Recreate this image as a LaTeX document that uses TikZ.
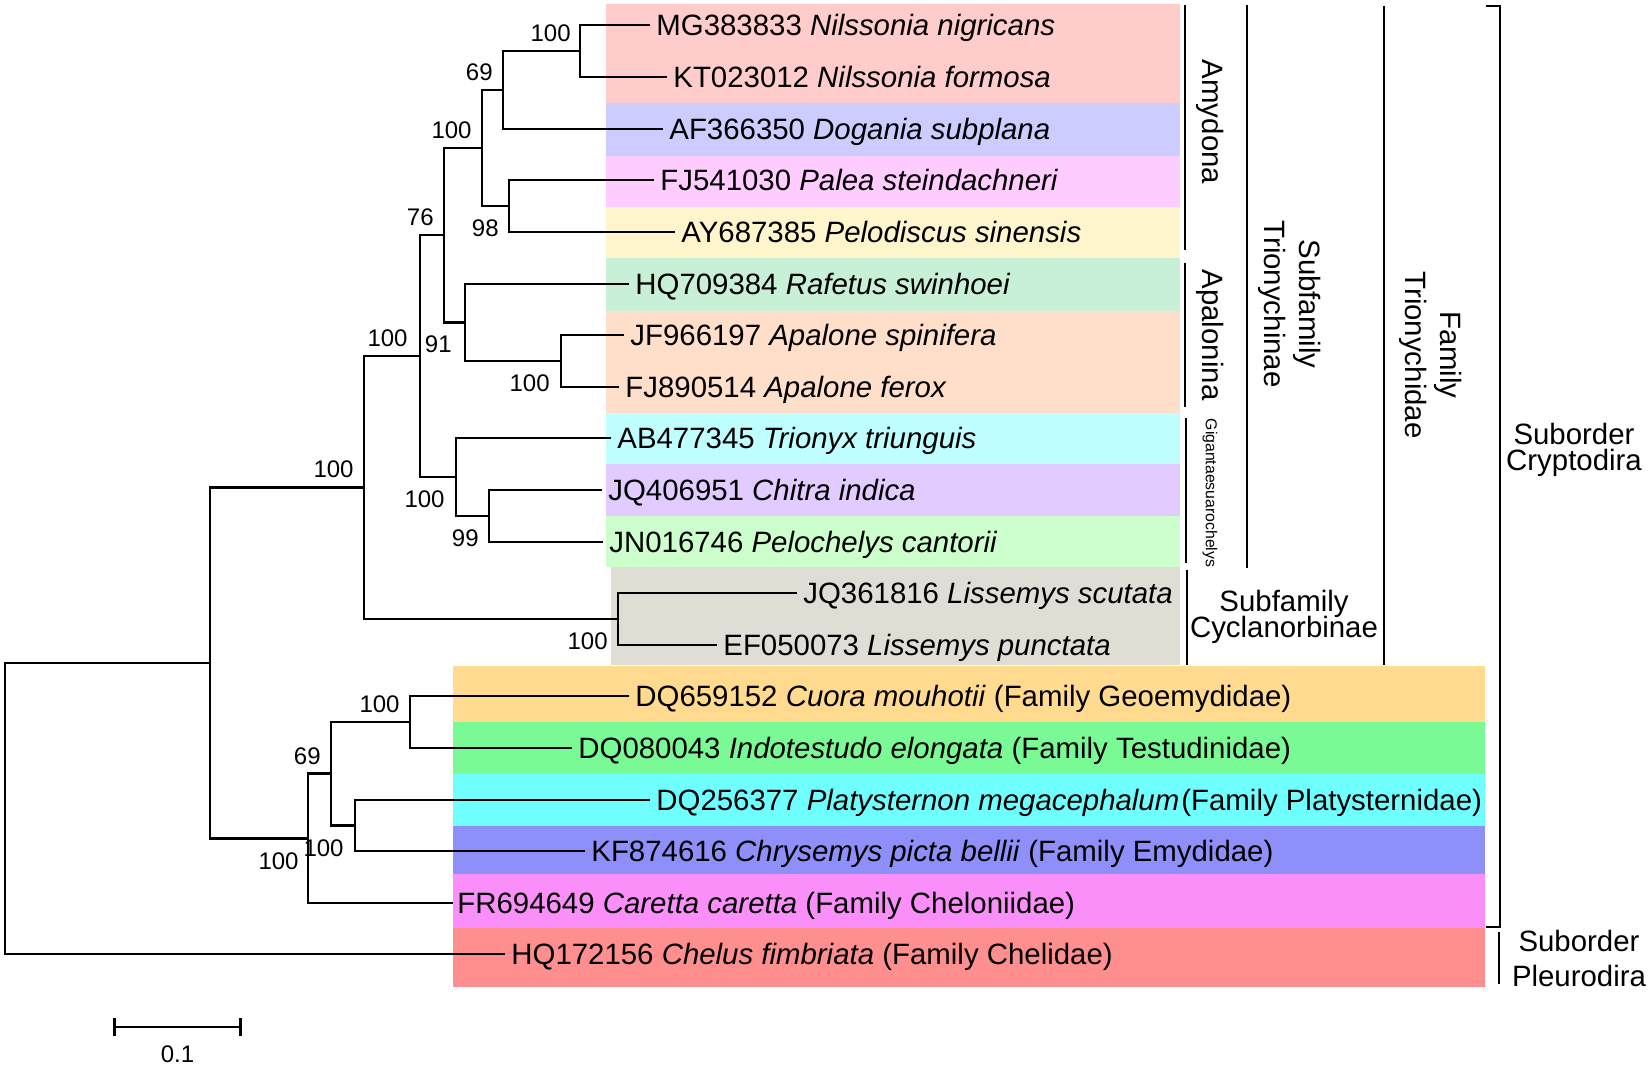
\documentclass[tikz,border=0pt]{standalone}
\usepackage{fontspec}
\setmainfont{Liberation Sans}
\usetikzlibrary{arrows.meta, positioning}

\definecolor{nilband}{RGB}{255,204,204}
\definecolor{dogband}{RGB}{204,204,255}
\definecolor{palband}{RGB}{255,204,255}
\definecolor{pdsband}{RGB}{255,245,204}
\definecolor{rafband}{RGB}{200,240,214}
\definecolor{apaband}{RGB}{255,222,202}
\definecolor{trxband}{RGB}{192,255,255}
\definecolor{chiband}{RGB}{226,204,255}
\definecolor{pchband}{RGB}{204,255,204}
\definecolor{lisband}{RGB}{224,221,212}
\definecolor{cuoband}{RGB}{255,218,143}
\definecolor{indband}{RGB}{122,250,148}
\definecolor{plaband}{RGB}{112,255,255}
\definecolor{chrband}{RGB}{143,143,250}
\definecolor{carband}{RGB}{250,143,250}
\definecolor{cheband}{RGB}{255,143,143}

\newcommand{\grpfont}{\fontsize{14.7}{17.5}\selectfont\lineskiplimit-20pt\relax}
\newcommand{\tightfont}{\fontsize{14.7}{13.3}\selectfont\lineskiplimit-20pt\relax}

\tikzset{
  branch/.style={line width=1.3pt},
  clade/.style={line width=1.3pt},
  tip/.style={anchor=west, inner sep=0pt, text height=10.5pt, text depth=0pt,
    font=\fontsize{14.7}{17.5}\selectfont},
  boot/.style={anchor=east, inner sep=0pt, font=\fontsize{12}{14}\selectfont},
  grp/.style={inner sep=0pt, align=center, font=\grpfont},
  tight/.style={font=\tightfont}
}

\begin{document}
\begin{tikzpicture}[x=0.5pt,y=-0.5pt]
    \useasboundingbox (0,0) rectangle (1650,1065);

    % coloured bands
    \fill[nilband] (606,4) rectangle (1180,103);
    \fill[dogband] (606,103) rectangle (1180,156);
    \fill[palband] (606,156) rectangle (1180,207);
    \fill[pdsband] (606,207) rectangle (1180,258);
    \fill[rafband] (606,258) rectangle (1180,311);
    \fill[apaband] (606,311) rectangle (1180,413);
    \fill[trxband] (606,413) rectangle (1180,464);
    \fill[chiband] (606,464) rectangle (1180,516);
    \fill[pchband] (606,516) rectangle (1180,567);
    \fill[lisband] (611,567) rectangle (1180,665);
    \fill[cuoband] (453,666) rectangle (1485,722);
    \fill[indband] (453,722) rectangle (1485,774);
    \fill[plaband] (453,774) rectangle (1485,826);
    \fill[chrband] (453,826) rectangle (1485,874);
    \fill[carband] (453,874) rectangle (1485,928);
    \fill[cheband] (453,928) rectangle (1485,987);

    % tips
    \coordinate (t1) at (650,25);
    \coordinate (t2) at (667,77);
    \coordinate (t3) at (663,129);
    \coordinate (t4) at (654,180);
    \coordinate (t5) at (675,232);
    \coordinate (t6) at (629,284);
    \coordinate (t7) at (624,335);
    \coordinate (t8) at (619,387);
    \coordinate (t9) at (611,438);
    \coordinate (t10) at (602,490);
    \coordinate (t11) at (603,542);
    \coordinate (t12) at (797,593);
    \coordinate (t13) at (717,645);
    \coordinate (t14) at (629,696);
    \coordinate (t15) at (572,748);
    \coordinate (t16) at (650,800);
    \coordinate (t17) at (585,851);
    \coordinate (t18) at (453,903);
    \coordinate (t19) at (505,954);

    % internal nodes
    \coordinate (nNil) at (580,51);
    \coordinate (n69a) at (503,90);
    \coordinate (n98) at (509,206);
    \coordinate (nAmy) at (482,148);
    \coordinate (nApa) at (561,361);
    \coordinate (n91) at (465,322.5);
    \coordinate (n76) at (444,235);
    \coordinate (n99) at (489,516);
    \coordinate (nGig) at (456,477);
    \coordinate (nTri) at (420,356);
    \coordinate (nLis) at (618,619);
    \coordinate (nTrd) at (364,487.5);
    \coordinate (nGeo) at (410,722);
    \coordinate (nPla) at (355,825.5);
    \coordinate (n69b) at (331,773.5);
    \coordinate (nChe) at (308,838.5);
    \coordinate (nCry) at (210,663);
    \coordinate (root) at (5,808.5);

    % branches
    \draw[branch] (nNil) |- (t1);
    \draw[branch] (nNil) |- (t2);
    \draw[branch] (n69a) |- (nNil);
    \draw[branch] (n69a) |- (t3);
    \draw[branch] (n98) |- (t4);
    \draw[branch] (n98) |- (t5);
    \draw[branch] (nAmy) |- (n69a);
    \draw[branch] (nAmy) |- (n98);
    \draw[branch] (nApa) |- (t7);
    \draw[branch] (nApa) |- (t8);
    \draw[branch] (n91) |- (t6);
    \draw[branch] (n91) |- (nApa);
    \draw[branch] (n76) |- (nAmy);
    \draw[branch] (n76) |- (n91);
    \draw[branch] (n99) |- (t10);
    \draw[branch] (n99) |- (t11);
    \draw[branch] (nGig) |- (t9);
    \draw[branch] (nGig) |- (n99);
    \draw[branch] (nTri) |- (n76);
    \draw[branch] (nTri) |- (nGig);
    \draw[branch] (nLis) |- (t12);
    \draw[branch] (nLis) |- (t13);
    \draw[branch] (nTrd) |- (nTri);
    \draw[branch] (nTrd) |- (nLis);
    \draw[branch] (nGeo) |- (t14);
    \draw[branch] (nGeo) |- (t15);
    \draw[branch] (nPla) |- (t16);
    \draw[branch] (nPla) |- (t17);
    \draw[branch] (n69b) |- (nGeo);
    \draw[branch] (n69b) |- (nPla);
    \draw[branch] (nChe) |- (n69b);
    \draw[branch] (nChe) |- (t18);
    \draw[branch] (nCry) |- (nTrd);
    \draw[branch] (nCry) |- (nChe);
    \draw[branch] (root) |- (nCry);
    \draw[branch] (root) |- (t19);

    % bootstrap values
    \node[boot] (bNil) at (571,33) {100};
    \node[boot] (b69a) at (493,72) {69};
    \node[boot] (bAmy) at (472,130) {100};
    \node[boot] (b98) at (499,228) {98};
    \node[boot] (b76) at (434,217) {76};
    \node[boot] (b91) at (452,344) {91};
    \node[boot] (bApa) at (550,383) {100};
    \node[boot] (bTri) at (408,338) {100};
    \node[boot] (bTrd) at (354,469) {100};
    \node[boot] (bGig) at (445,499) {100};
    \node[boot] (b99) at (479,538) {99};
    \node[boot] (bLis) at (608,641) {100};
    \node[boot] (bGeo) at (400,704) {100};
    \node[boot] (b69b) at (321,756) {69};
    \node[boot] (bPla) at (344,848) {100};
    \node[boot] (bChe) at (299,861) {100};

    % taxon labels
    \node[tip, right=3pt of t1] (l1) {MG383833 \textit{Nilssonia nigricans}};
    \node[tip, right=3pt of t2] (l2) {KT023012 \textit{Nilssonia formosa}};
    \node[tip, right=3pt of t3] (l3) {AF366350 \textit{Dogania subplana}};
    \node[tip, right=3pt of t4] (l4) {FJ541030 \textit{Palea steindachneri}};
    \node[tip, right=3pt of t5] (l5) {AY687385 \textit{Pelodiscus sinensis}};
    \node[tip, right=3pt of t6] (l6) {HQ709384 \textit{Rafetus swinhoei}};
    \node[tip, right=3pt of t7] (l7) {JF966197 \textit{Apalone spinifera}};
    \node[tip, right=3pt of t8] (l8) {FJ890514 \textit{Apalone ferox}};
    \node[tip, right=3pt of t9] (l9) {AB477345 \textit{Trionyx triunguis}};
    \node[tip, right=3pt of t10] (l10) {JQ406951 \textit{Chitra indica}};
    \node[tip, right=3pt of t11] (l11) {JN016746 \textit{Pelochelys cantorii}};
    \node[tip, right=3pt of t12] (l12) {JQ361816 \textit{Lissemys scutata}};
    \node[tip, right=3pt of t13] (l13) {EF050073 \textit{Lissemys punctata}};
    \node[tip, right=3pt of t14] (l14) {DQ659152 \textit{Cuora mouhotii} (Family Geoemydidae)};
    \node[tip, right=3pt of t15] (l15) {DQ080043 \textit{Indotestudo elongata} (Family Testudinidae)};
    \node[tip, right=3pt of t16] (l16) {DQ256377 \textit{Platysternon megacephalum}\kern1pt(Family Platysternidae)};
    \node[tip, right=3pt of t17] (l17) {KF874616 \textit{Chrysemys picta bellii} (Family Emydidae)};
    \node[tip, right=2pt of t18] (l18) {FR694649 \textit{Caretta caretta} (Family Cheloniidae)};
    \node[tip, right=3pt of t19] (l19) {HQ172156 \textit{Chelus fimbriata} (Family Chelidae)};

    % clade bars and names
    \draw[clade] (1185,5) -- (1185,250);
    \draw[clade] (1185,263) -- (1185,407);
    \draw[clade] (1186,418) -- (1186,563);
    \draw[clade] (1247,5) -- (1247,568);
    \draw[clade] (1187,570) -- (1187,665);
    \draw[clade] (1384,6) -- (1384,665);
    \draw[clade] (1486,6) -- (1500,6) -- (1500,927) -- (1486,927);
    \draw[clade] (1499,932) -- (1499,984);

    \node[grp, rotate=-90] (amy) at (1210,122) {Amydona};
    \node[grp, rotate=-90] (apl) at (1210,335) {Apalonina};
    \node[grp, rotate=-90, font=\fontsize{7.9}{9}\selectfont] (gig) at (1210,493) {Gigantaesuarochelys};
    \node[grp, rotate=-90] (trs) at (1290,304) {Subfamily\\Trionychinae};
    \node[grp, rotate=-90] (trf) at (1431,355) {Family\\Trionychidae};
    \node[grp, tight] (cyc) at (1284,617) {Subfamily\\Cyclanorbinae};
    \node[grp, tight] (cry) at (1574,450) {Suborder\\Cryptodira};
    \node[grp] (ple) at (1579,958) {Suborder\\Pleurodira};

    % scale bar
    \coordinate (s0) at (113,1027);
    \coordinate (s1) at (242,1027);
    \draw[clade, {Bar[width=9pt]}-{Bar[width=9pt]}] (s0) -- node[boot, below=8.5pt] (sc) {0.1} (s1);
\end{tikzpicture}
\end{document}
